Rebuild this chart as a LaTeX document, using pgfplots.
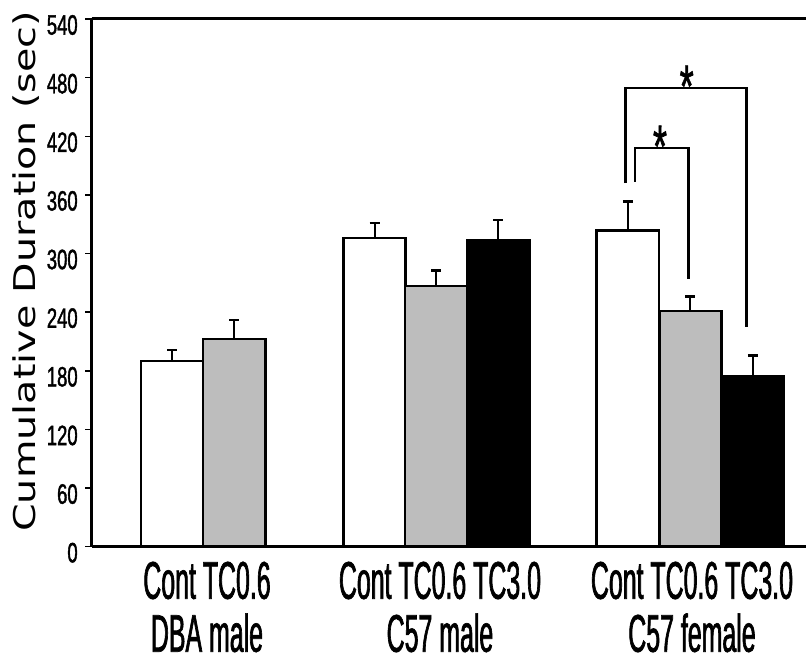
\documentclass[border=0pt]{standalone}
\usepackage{fontspec}
\usepackage{pgfplots}
\pgfplotsset{compat=1.18}
\setmainfont{Liberation Sans}
\newfontfamily\xlabfont[FakeStretch=0.47,FakeBold=1.2]{Liberation Sans}
\newfontfamily\ytfont[FakeStretch=0.66,FakeBold=1.4]{Liberation Sans}
\newfontfamily\starfont[FakeStretch=0.6,FakeBold=1]{Liberation Sans}
\newfontfamily\ylabfont[FakeStretch=1.32]{DejaVu Sans}
\definecolor{bargray}{rgb}{0.74,0.74,0.74}
\begin{document}
\begin{tikzpicture}
\begin{axis}[
  scale only axis,
  width=714.3pt, height=527.7pt,
  xmin=91.7, xmax=806, ymin=0, ymax=540,
  axis x line*=box, axis y line*=left,
  axis line style={line width=3pt},
  ytick={0,60,...,540},
  tick align=outside,
  major tick length=6.5pt,
  y tick style={line width=1.5pt, black},
  x tick style={draw=none},
  /pgf/number format/assume math mode=true,
  yticklabel style={font=\ytfont\fontsize{28}{28}\selectfont, xshift=-4pt, yshift=-6pt},
  xtick={207,440,692},
  xticklabels={{Cont TC0.6\\DBA male},{Cont TC0.6 TC3.0\\C57 male},{Cont TC0.6 TC3.0\\C57 female}},
  xticklabel style={align=center, font=\xlabfont\fontsize{53}{53}\selectfont, yshift=-5pt},
  ybar, bar width=62.3, bar shift=0pt,
  clip=false,
  error bars/y dir=plus, error bars/y explicit,
  error bars/error bar style={line width=2pt, black},
  error bars/error mark options={rotate=90, mark size=5pt, line width=2.5pt, black},
]
% Cont
\addplot[draw=black, line width=2.5pt, fill=white] coordinates {
  (172,190) +- (0,11.3)
  (374.5,315.7) +- (0,15.3)
  (627.8,323.4) +- (0,29.7)
};
% TC0.6
\addplot[draw=black, line width=2.5pt, fill=bargray] coordinates {
  (234.2,212.6) +- (0,19.4)
  (436.2,266.8) +- (0,15.7)
  (690.4,241.2) +- (0,14.7)
};
% TC3.0
\addplot[draw=black, line width=2.5pt, fill=black] coordinates {
  (498.3,313.9) +- (0,20.5)
  (752.8,174) +- (0,21.5)
};
% significance brackets
\draw[line width=2.5pt] (axis cs:625.7,372) |- (axis cs:746.7,469.2) -- (axis cs:746.7,225.2);
\draw[line width=2.5pt] (axis cs:635,373.6) |- (axis cs:688.3,407.8) -- (axis cs:688.3,273.7);
\node[anchor=base, inner sep=0pt, font=\starfont\fontsize{60}{60}\selectfont] at (axis cs:686.7,450) {*};
\node[anchor=base, inner sep=0pt, font=\starfont\fontsize{60}{60}\selectfont] at (axis cs:660,388.6) {*};
\node[rotate=90, font=\ylabfont\fontsize{30}{30}\selectfont] at ([xshift=-65.7pt]rel axis cs:0,0.522) {Cumulative Duration (sec)};
\coordinate (ll) at (rel axis cs:0,0);
\coordinate (ur) at (rel axis cs:1,1);
\end{axis}
\pgfresetboundingbox
\path[use as bounding box] ([shift={(-91.7pt,-118.3pt)}]ll) rectangle ([shift={(0pt,19pt)}]ur);
\end{tikzpicture}
\end{document}
